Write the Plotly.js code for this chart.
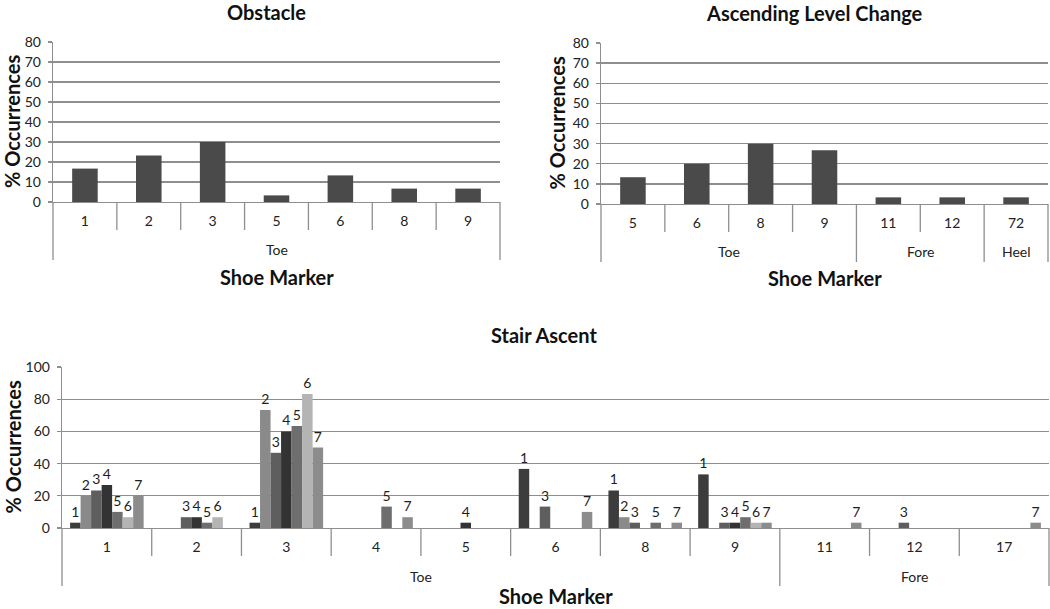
<!DOCTYPE html>
<html>
<head>
<meta charset="utf-8">
<script src="https://cdn.plot.ly/plotly-3.0.1.min.js"></script>
<style>html,body{margin:0;padding:0;background:#fff;}#chart{width:1050px;height:609px;}</style>
</head>
<body>
<div id="chart"></div>
<script>
// ---------- DATA ----------
// Obstacle
const obstacleMarkers = ['1', '2', '3', '5', '6', '8', '9'];
const obstacleRegions = ['Toe', 'Toe', 'Toe', 'Toe', 'Toe', 'Toe', 'Toe'];
const obstacleValues  = [16.7, 23.3, 30.0, 3.3, 13.3, 6.7, 6.7];

// Ascending Level Change
const ascendMarkers = ['5', '6', '8', '9', '11', '12', '72'];
const ascendRegions = ['Toe', 'Toe', 'Toe', 'Toe', 'Fore', 'Fore', 'Heel'];
const ascendValues  = [13.3, 20.0, 30.0, 26.7, 3.3, 3.3, 3.3];

// Stair Ascent (series 1..7, null = no occurrence)
const stairMarkers = ['1', '2', '3', '4', '5', '6', '8', '9', '11', '12', '17'];
const stairRegions = ['Toe', 'Toe', 'Toe', 'Toe', 'Toe', 'Toe', 'Toe', 'Toe', 'Fore', 'Fore', 'Fore'];
const stairSeriesNames = ['1', '2', '3', '4', '5', '6', '7'];
const stairS1 = [3.3, null, 3.3, null, null, 36.7, 23.3, 33.3, null, null, null];
const stairS2 = [20.0, null, 73.3, null, null, null, 6.7, null, null, null, null];
const stairS3 = [23.3, 6.7, 46.7, null, null, 13.3, 3.3, 3.3, null, 3.3, null];
const stairS4 = [26.7, 6.7, 60.0, null, 3.3, null, null, 3.3, null, null, null];
const stairS5 = [10.0, 3.3, 63.3, 13.3, null, null, 3.3, 6.7, null, null, null];
const stairS6 = [6.7, 6.7, 83.3, null, null, null, null, 3.3, null, null, null];
const stairS7 = [20.0, null, 50.0, 6.7, null, 10.0, 3.3, 3.3, 3.3, null, 3.3];
const stairSeries = [stairS1, stairS2, stairS3, stairS4, stairS5, stairS6, stairS7];

const chartTitles = ['Obstacle', 'Ascending Level Change', 'Stair Ascent'];
const xTitle = 'Shoe Marker';
const yTitle = '% Occurrences';

// ---------- STYLE ----------
const W = 1050, H = 609;
const FONT = 'Lato, "Open Sans", sans-serif';
const GRID = '#8e8e8e';
const stairColors = ['#3c3c3c', '#8a8a8a', '#5e5e5e', '#333333', '#6e6e6e', '#b4b4b4', '#8c8c8c'];
const singleColor = '#4a4a4a';
const TICK_SIZE = 14, TITLE_SIZE = 20;

const px = p => p / W;
const py = p => 1 - p / H;

// panel geometry in pixels: [left, right, top, bottom]
const panels = [
  {ax: '',  box: [53, 500, 42, 202],  cats: obstacleMarkers, regions: obstacleRegions, ymax: 80,  dtick: 10, titleX: 266, titleY: 12,  yTitleX: 12, xTitleOff: 75},
  {ax: '2', box: [601, 1048, 43, 204], cats: ascendMarkers,   regions: ascendRegions,   ymax: 80,  dtick: 10, titleX: 814, titleY: 13,  yTitleX: 556, xTitleOff: 74},
  {ax: '3', box: [62, 1049, 367, 528], cats: stairMarkers,    regions: stairRegions,    ymax: 100, dtick: 20, titleX: 544, titleY: 335, yTitleX: 12, xTitleOff: 68}
];

const traces = [];
traces.push({
  type: 'bar', x: obstacleMarkers, y: obstacleValues, xaxis: 'x', yaxis: 'y',
  marker: {color: singleColor}, width: 0.4, showlegend: false, hoverinfo: 'x+y'
});
traces.push({
  type: 'bar', x: ascendMarkers, y: ascendValues, xaxis: 'x2', yaxis: 'y2',
  marker: {color: singleColor}, width: 0.4, showlegend: false, hoverinfo: 'x+y'
});
stairSeries.forEach((vals, k) => {
  traces.push({
    type: 'bar', name: stairSeriesNames[k], x: stairMarkers, y: vals, xaxis: 'x3', yaxis: 'y3',
    marker: {color: stairColors[k]},
    text: vals.map(v => (v === null ? '' : stairSeriesNames[k])),
    textposition: 'outside', cliponaxis: false, constraintext: 'none',
    textfont: {family: FONT, size: 14, color: '#1e1e1e'},
    showlegend: false
  });
});

const layout = {
  width: W, height: H,
  margin: {l: 0, r: 0, t: 0, b: 0},
  paper_bgcolor: '#ffffff', plot_bgcolor: '#ffffff',
  font: {family: FONT, color: '#222'},
  barmode: 'group', bargap: 0.18, bargroupgap: 0,
  showlegend: false,
  shapes: [], annotations: []
};

panels.forEach((p, idx) => {
  const [l, r, t, b] = p.box;
  const xa = 'xaxis' + p.ax, ya = 'yaxis' + p.ax;
  const xid = 'x' + p.ax, yid = 'y' + p.ax;
  layout[xa] = {
    domain: [px(l), px(r)], anchor: yid, type: 'category',
    showline: true, linecolor: GRID, linewidth: 1.3,
    ticks: '', showgrid: false, zeroline: false,
    tickfont: {family: FONT, size: TICK_SIZE, color: '#222'},
    ticklabelstandoff: 6, fixedrange: true
  };
  layout[ya] = {
    domain: [py(b), py(t)], anchor: xid, range: [0, p.ymax], dtick: p.dtick,
    showgrid: true, gridcolor: GRID, gridwidth: 1.3,
    showline: true, linecolor: GRID, linewidth: 1.3,
    ticks: 'outside', ticklen: 4, tickcolor: GRID, tickwidth: 1.3,
    zeroline: false, tickfont: {family: FONT, size: TICK_SIZE, color: '#222'},
    ticklabelstandoff: 4, fixedrange: true
  };
  // category separators: short between categories, long at region borders and ends
  const n = p.cats.length;
  for (let i = 0; i <= n; i++) {
    const isLong = (i === 0 || i === n || p.regions[i] !== p.regions[i - 1]);
    layout.shapes.push({
      type: 'line', xref: xid + ' domain', yref: 'paper',
      x0: i / n, x1: i / n, y0: py(b), y1: py(b + (isLong ? 58 : 28)),
      line: {color: GRID, width: 1.3}
    });
  }
  // region labels
  let start = 0;
  for (let i = 1; i <= n; i++) {
    if (i === n || p.regions[i] !== p.regions[start]) {
      layout.annotations.push({
        xref: xid + ' domain', yref: 'paper', x: (start + i) / 2 / n, y: py(b + 48),
        text: p.regions[start], showarrow: false, xanchor: 'center', yanchor: 'middle',
        font: {family: FONT, size: TICK_SIZE, color: '#222'}
      });
      start = i;
    }
  }
  // x title
  layout.annotations.push({
    xref: 'paper', yref: 'paper', x: px((l + r) / 2), y: py(b + p.xTitleOff),
    text: xTitle, showarrow: false, xanchor: 'center', yanchor: 'middle',
    font: {family: FONT, size: TITLE_SIZE, color: '#111', weight: 'bold'}
  });
  // y title
  layout.annotations.push({
    xref: 'paper', yref: 'paper', x: px(p.yTitleX), y: py((t + b) / 2),
    text: yTitle, showarrow: false, textangle: -90, xanchor: 'center', yanchor: 'middle',
    font: {family: FONT, size: TITLE_SIZE, color: '#111', weight: 'bold'}
  });
  // chart title
  layout.annotations.push({
    xref: 'paper', yref: 'paper', x: px(p.titleX), y: py(p.titleY),
    text: chartTitles[idx], showarrow: false, xanchor: 'center', yanchor: 'middle',
    font: {family: FONT, size: TITLE_SIZE, color: '#111', weight: 'bold'}
  });
});

Plotly.newPlot('chart', traces, layout, {displayModeBar: false, staticPlot: true});
</script>
</body>
</html>
